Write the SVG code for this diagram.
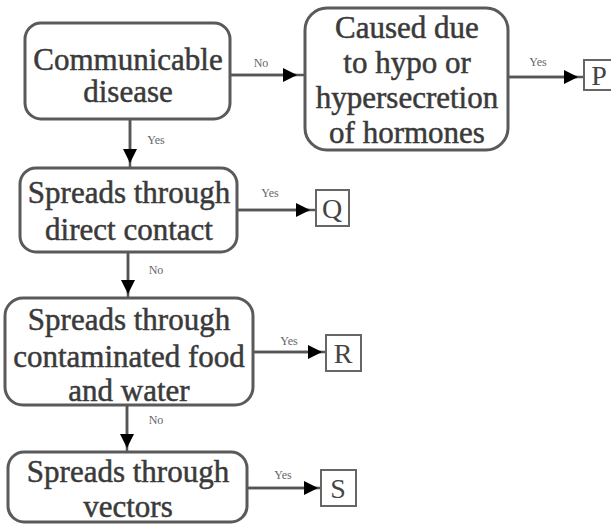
<svg xmlns="http://www.w3.org/2000/svg" width="611" height="526" viewBox="0 0 611 526">
<style>
.box{fill:#fff;stroke:#5a5a5a;stroke-width:3}
.sq{fill:#fff;stroke:#666;stroke-width:2}
.t{font-family:"Liberation Serif","Times New Roman",serif;font-size:31px;fill:#3a3a3a;stroke:#3a3a3a;stroke-width:0.5;text-anchor:middle}
.s{font-family:"Liberation Serif","Times New Roman",serif;font-size:28px;fill:#444;text-anchor:middle}
.l{font-family:"Liberation Serif","Times New Roman",serif;font-size:12px;fill:#666;text-anchor:middle}
.c{stroke:#555;stroke-width:2.5;fill:none}
</style>
<defs>
<marker id="av" markerWidth="14" markerHeight="14" refX="13" refY="7" orient="auto" markerUnits="userSpaceOnUse">
<path d="M0,0 L14,7 L0,14 Z" fill="#000"/>
</marker>
</defs>
<g id="connectors">
<path class="c" d="M230,75 H305"/>
<path class="c" d="M230,75 H296" marker-end="url(#av)"/>
<path class="c" d="M508,77 H583"/>
<path class="c" d="M508,77 H577" marker-end="url(#av)"/>
<path class="c" d="M237,210 H315"/>
<path class="c" d="M237,210 H309" marker-end="url(#av)"/>
<path class="c" d="M253,352 H325"/>
<path class="c" d="M253,352 H321" marker-end="url(#av)"/>
<path class="c" d="M247,488 H320"/>
<path class="c" d="M247,488 H317" marker-end="url(#av)"/>
<path class="c" d="M130,119 V167"/>
<path class="c" d="M130,119 V162" marker-end="url(#av)"/>
<path class="c" d="M128,252 V298"/>
<path class="c" d="M128,252 V293" marker-end="url(#av)"/>
<path class="c" d="M127,405 V452"/>
<path class="c" d="M127,405 V447" marker-end="url(#av)"/>
<text class="l" x="261" y="67">No</text>
<text class="l" x="538" y="66">Yes</text>
<text class="l" x="156" y="144">Yes</text>
<text class="l" x="270" y="197">Yes</text>
<text class="l" x="156" y="274">No</text>
<text class="l" x="289" y="345">Yes</text>
<text class="l" x="156" y="424">No</text>
<text class="l" x="283" y="479">Yes</text>
</g>
<g id="n1"><rect class="box" x="25" y="23" width="205" height="96" rx="16"/>
<text class="t" x="128" y="70">Communicable</text><text class="t" x="128" y="102">disease</text></g>
<g id="n2"><rect class="box" x="305" y="8" width="203" height="142" rx="22"/>
<text class="t" x="407" y="38">Caused due</text><text class="t" x="407" y="73">to hypo or</text><text class="t" x="407" y="108">hypersecretion</text><text class="t" x="407" y="143">of hormones</text></g>
<g id="n3"><rect class="box" x="20" y="168" width="217" height="84" rx="16"/>
<text class="t" x="129" y="203">Spreads through</text><text class="t" x="129" y="240">direct contact</text></g>
<g id="n4"><rect class="box" x="5" y="298" width="248" height="107" rx="18"/>
<text class="t" x="129" y="330">Spreads through</text><text class="t" x="129" y="367">contaminated food</text><text class="t" x="129" y="401">and water</text></g>
<g id="n5"><rect class="box" x="8" y="452" width="239" height="70" rx="16"/>
<text class="t" x="128" y="482">Spreads through</text><text class="t" x="128" y="517">vectors</text></g>
<g id="P"><rect class="sq" x="584" y="60" width="30" height="30"/><text class="s" x="599" y="85">P</text></g>
<g id="Q"><rect class="sq" x="316" y="190" width="33" height="36"/><text class="s" x="332" y="218">Q</text></g>
<g id="R"><rect class="sq" x="326" y="335" width="35" height="36"/><text class="s" x="343" y="363">R</text></g>
<g id="S"><rect class="sq" x="321" y="470" width="35" height="36"/><text class="s" x="338" y="498">S</text></g>
</svg>
